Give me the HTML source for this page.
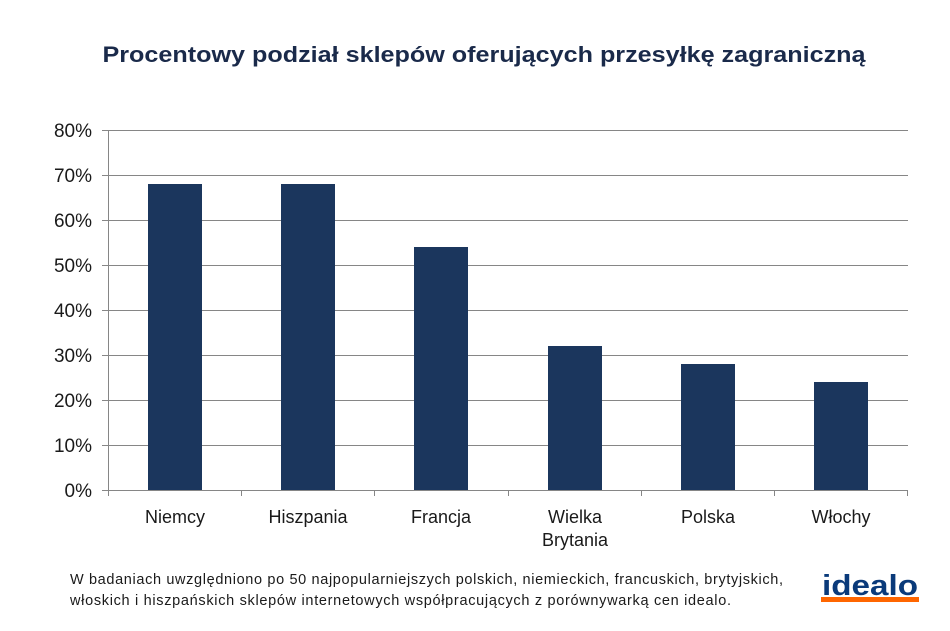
<!DOCTYPE html>
<html><head><meta charset="utf-8"><style>body{margin:0;background:#fff}</style></head><body>
<svg width="950" height="626" xmlns="http://www.w3.org/2000/svg" font-family="Liberation Sans, sans-serif">
<rect width="950" height="626" fill="#fff"/>
<text x="484" y="62" text-anchor="middle" font-size="22" font-weight="bold" fill="#1a2a4a" textLength="763" lengthAdjust="spacingAndGlyphs">Procentowy podział sklepów oferujących przesyłkę zagraniczną</text>
<g stroke="#868686" stroke-width="1">
<line x1="102" y1="130.5" x2="908" y2="130.5"/>
<line x1="102" y1="175.5" x2="908" y2="175.5"/>
<line x1="102" y1="220.5" x2="908" y2="220.5"/>
<line x1="102" y1="265.5" x2="908" y2="265.5"/>
<line x1="102" y1="310.5" x2="908" y2="310.5"/>
<line x1="102" y1="355.5" x2="908" y2="355.5"/>
<line x1="102" y1="400.5" x2="908" y2="400.5"/>
<line x1="102" y1="445.5" x2="908" y2="445.5"/>
<line x1="102" y1="490.5" x2="908" y2="490.5"/>
<line x1="108.5" y1="130" x2="108.5" y2="490"/>
<line x1="241.5" y1="490" x2="241.5" y2="496"/>
<line x1="374.5" y1="490" x2="374.5" y2="496"/>
<line x1="508.5" y1="490" x2="508.5" y2="496"/>
<line x1="641.5" y1="490" x2="641.5" y2="496"/>
<line x1="774.5" y1="490" x2="774.5" y2="496"/>
<line x1="907.5" y1="490" x2="907.5" y2="496"/>
<line x1="108.5" y1="490" x2="108.5" y2="496"/>
</g>
<g fill="#1b365d">
<rect x="148" y="184" width="54" height="306"/>
<rect x="281" y="184" width="54" height="306"/>
<rect x="414" y="247" width="54" height="243"/>
<rect x="548" y="346" width="54" height="144"/>
<rect x="681" y="364" width="54" height="126"/>
<rect x="814" y="382" width="54" height="108"/>
</g>
<g font-size="19" fill="#1a1a1a" text-anchor="end">
<text x="92" y="137">80%</text><text x="92" y="182">70%</text><text x="92" y="227">60%</text>
<text x="92" y="272">50%</text><text x="92" y="317">40%</text><text x="92" y="362">30%</text>
<text x="92" y="407">20%</text><text x="92" y="452">10%</text><text x="92" y="497">0%</text>
</g>
<g font-size="18" fill="#1a1a1a" text-anchor="middle">
<text x="175" y="523">Niemcy</text><text x="308" y="523">Hiszpania</text><text x="441" y="523">Francja</text>
<text x="575" y="523">Wielka</text><text x="575" y="546">Brytania</text>
<text x="708" y="523">Polska</text><text x="841" y="523">Włochy</text>
</g>
<g font-size="14.5" fill="#1a1a1a">
<text x="70" y="584" textLength="713" lengthAdjust="spacing">W badaniach uwzględniono po 50 najpopularniejszych polskich, niemieckich, francuskich, brytyjskich,</text>
<text x="70" y="605" textLength="661" lengthAdjust="spacing">włoskich i hiszpańskich sklepów internetowych współpracujących z porównywarką cen idealo.</text>
</g>
<text x="870" y="595" text-anchor="middle" font-size="29" font-weight="bold" fill="#0a3a7a" textLength="96" lengthAdjust="spacingAndGlyphs">idealo</text>
<rect x="821" y="597" width="98" height="5" fill="#ff6600"/>
</svg>
</body></html>
